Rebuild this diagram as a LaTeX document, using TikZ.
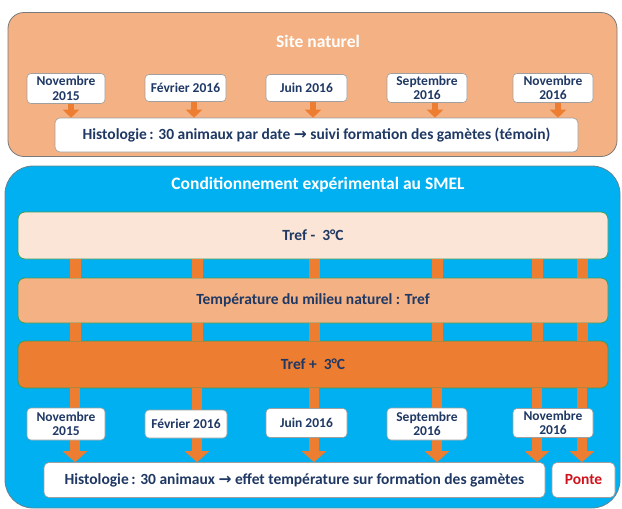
\documentclass[tikz,border=0pt]{standalone}
\usepackage{fontspec}
\setmainfont{Carlito}
\newfontfamily\symfont{DejaVu Sans}
\usetikzlibrary{arrows.meta}
\definecolor{navy}{HTML}{1F3864}
\definecolor{orDark}{HTML}{ED7D31}
\definecolor{orLight}{HTML}{F4B183}
\definecolor{orPale}{HTML}{FBE5D6}
\definecolor{skyblue}{HTML}{00B0F0}
\definecolor{bandgreen}{HTML}{3C9D5A}
\definecolor{ponteRed}{HTML}{D0141E}
\definecolor{panelEdge}{HTML}{7A7A7A}
\newcommand{\rarr}{{\symfont\bfseries →}}
\tikzset{
  toppanel/.style={draw=panelEdge, line width=0.8pt, fill=orLight, rounded corners=16pt},
  botpanel/.style={draw=panelEdge!80!skyblue, line width=0.8pt, fill=skyblue, rounded corners=28pt},
  paneltitle/.style={text=white, font=\fontsize{17.5}{19}\selectfont\bfseries},
  datebox/.style={draw=gray!75, line width=0.6pt, fill=white, rounded corners=4pt, text=navy,
    align=center, inner sep=0pt, font=\fontsize{13.5}{14.5}\selectfont\bfseries},
  histobox/.style={draw=gray!75, line width=0.6pt, fill=white, rounded corners=5pt, text=navy,
    inner sep=0pt, font=\fontsize{15.5}{17}\selectfont\bfseries},
  band/.style={draw=bandgreen, line width=0.8pt, rounded corners=7pt, text=navy,
    minimum width=590pt, inner sep=0pt, font=\fontsize{15.5}{17}\selectfont\bfseries},
  bar/.style={draw=orDark, line width=11pt},
  smallarrow/.style={draw=orDark, line width=6pt, -{Triangle[width=16pt,length=8pt]}},
  bigarrow/.style={draw=orDark, line width=10pt, -{Triangle[width=24pt,length=11pt]}}
}
\begin{document}
\begin{tikzpicture}[x=1pt,y=-1pt]
\useasboundingbox (0,0) rectangle (622,509);
% ---------- Site naturel ----------
\node[toppanel, minimum width=609pt, minimum height=144pt] (site) at (312.5,84.5) {};
\node[paneltitle] (sitetitle) at (318,41) {Site naturel};
\node[datebox, minimum width=78pt, minimum height=30pt] (t1) at (66,88.5) {Novembre\\2015};
\node[datebox, minimum width=81pt, minimum height=27pt] (t2) at (185.5,88) {Février 2016};
\node[datebox, minimum width=81pt, minimum height=27pt] (t3) at (306.5,88) {Juin 2016};
\node[datebox, minimum width=80pt, minimum height=29pt] (t4) at (427,88) {Septembre\\2016};
\node[datebox, minimum width=80pt, minimum height=29pt] (t5) at (553,88) {Novembre\\2016};
\node[histobox, minimum width=523pt, minimum height=34pt] (h1) at (316.5,135)
  {Histologie\,: 30 animaux par date \rarr\ suivi formation des gamètes (témoin)};
\coordinate (a1) at (71,0);
\coordinate (a2) at (194,0);
\coordinate (a3) at (313,0);
\coordinate (a4) at (435,0);
\coordinate (a5) at (558,0);
\draw[smallarrow] (t1.south -| a1) -- (h1.north -| a1);
\draw[smallarrow] (t2.south -| a2) -- (h1.north -| a2);
\draw[smallarrow] (t3.south -| a3) -- (h1.north -| a3);
\draw[smallarrow] (t4.south -| a4) -- (h1.north -| a4);
\draw[smallarrow] (t5.south -| a5) -- (h1.north -| a5);
% ---------- Conditionnement ----------
\node[botpanel, minimum width=615pt, minimum height=342pt] (smel) at (312.5,337) {};
\node[paneltitle] (smeltitle) at (318,185) {Conditionnement expérimental au SMEL};
\node[band, fill=orPale, minimum height=47pt] (tminus) at (313,235.5) {Tref -\ \ 3°C};
\node[band, fill=orLight, minimum height=45pt] (tnat) at (313,300.5) {Température du milieu naturel : Tref};
\node[band, fill=orDark, minimum height=47pt] (tplus) at (313,364.5) {Tref +\ \ 3°C};
\node[histobox, minimum width=501pt, minimum height=35pt] (h2) at (294.5,480)
  {Histologie\,: 30 animaux \rarr\ effet température sur formation des gamètes};
\node[histobox, text=ponteRed, minimum width=63pt, minimum height=35pt] (ponte) at (583.5,480) {Ponte};
\coordinate (c1) at (75,0);
\coordinate (c2) at (197,0);
\coordinate (c3) at (314,0);
\coordinate (c4) at (437,0);
\coordinate (c5) at (537,0);
\coordinate (c6) at (582,0);
\foreach \c in {c1,c2,c3,c4,c5,c6}{
  \draw[bar] (tminus.south -| \c) -- (tnat.north -| \c);
  \draw[bar] (tnat.south -| \c) -- (tplus.north -| \c);
}
\draw[bigarrow] (tplus.south -| c1) -- (h2.north -| c1);
\draw[bigarrow] (tplus.south -| c2) -- (h2.north -| c2);
\draw[bigarrow] (tplus.south -| c3) -- (h2.north -| c3);
\draw[bigarrow] (tplus.south -| c4) -- (h2.north -| c4);
\draw[bigarrow] (tplus.south -| c5) -- (h2.north -| c5);
\draw[bigarrow] (tplus.south -| c6) -- (ponte.north -| c6);
\node[datebox, minimum width=78pt, minimum height=32pt] (b1) at (66,424) {Novembre\\2015};
\node[datebox, minimum width=82pt, minimum height=28pt] (b2) at (186,424) {Février 2016};
\node[datebox, minimum width=81pt, minimum height=29pt] (b3) at (306.5,423) {Juin 2016};
\node[datebox, minimum width=80pt, minimum height=32pt] (b4) at (427,424) {Septembre\\2016};
\node[datebox, minimum width=80pt, minimum height=29pt] (b5) at (553,423) {Novembre\\2016};
\end{tikzpicture}
\end{document}
